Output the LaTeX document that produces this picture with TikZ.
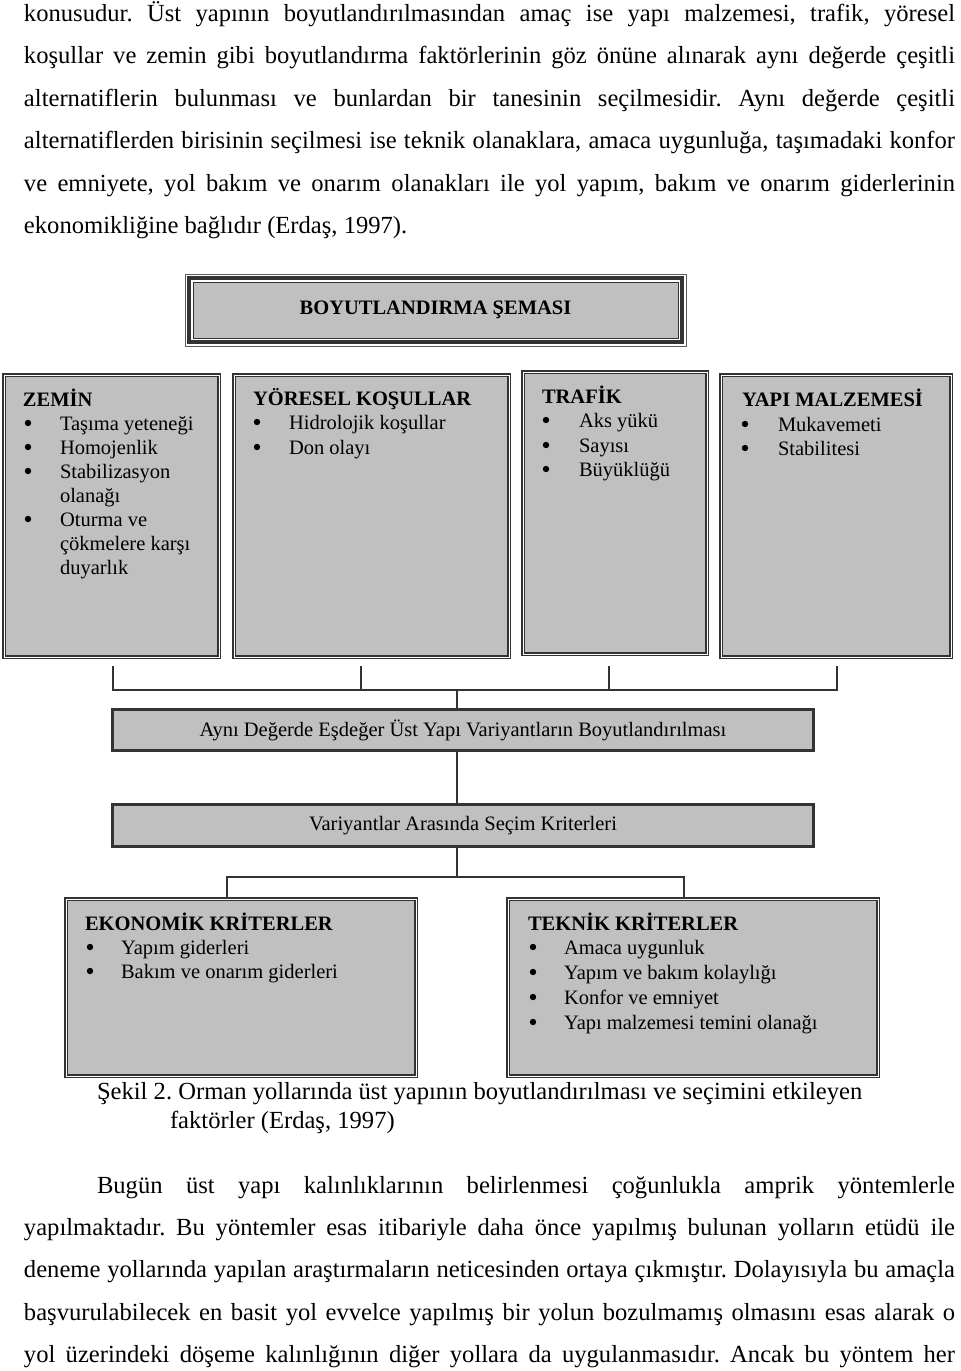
\documentclass[tikz,border=0pt]{standalone}
\usepackage{fontspec}
\setmainfont{Liberation Serif}
\definecolor{boxgray}{HTML}{C0C0C0}
\definecolor{framec}{HTML}{333333}
\newcommand\jl[1]{\makebox[465.5pt][s]{#1}}
\newcommand\jlb[1]{\makebox[429pt][s]{#1}}
\frenchspacing
\begin{document}
\frenchspacing
\begin{tikzpicture}[x=0.5pt,y=-0.5pt,
  ptxt/.style={anchor=base west, inner sep=0, outer sep=0, font=\fontsize{12.3}{14}\selectfont},
  btxt/.style={anchor=base west, inner sep=0, outer sep=0, font=\fontsize{10.25}{12}\selectfont},
  bhead/.style={anchor=base west, inner sep=0, outer sep=0, font=\fontsize{10.25}{12}\selectfont\bfseries},
  bul/.style={circle, fill=black, inner sep=0, outer sep=0, minimum size=3.2pt},
  dbox/.style={draw=framec, double=white, double distance=0.5pt, line width=0.75pt, fill=boxgray, inner sep=0, outer sep=0},
  mbox/.style={draw=framec, line width=1.5pt, fill=boxgray, inner sep=0, outer sep=0, font=\fontsize{10.25}{12}\selectfont},
  conn/.style={draw=framec, line width=0.6pt}]
\useasboundingbox (0,0) rectangle (960,1371);

% ---------- top paragraph ----------
\node[ptxt] (p1) at (24,21)  {\jl{konusudur. Üst yapının boyutlandırılmasından amaç ise yapı malzemesi, trafik, yöresel}};
\node[ptxt] (p2) at (24,63)  {\jl{koşullar ve zemin gibi boyutlandırma faktörlerinin göz önüne alınarak aynı değerde çeşitli}};
\node[ptxt] (p3) at (24,106) {\jl{alternatiflerin bulunması ve bunlardan bir tanesinin seçilmesidir. Aynı değerde çeşitli}};
\node[ptxt] (p4) at (24,148) {\jl{alternatiflerden birisinin seçilmesi ise teknik olanaklara, amaca uygunluğa, taşımadaki konfor}};
\node[ptxt] (p5) at (24,191) {\jl{ve emniyete, yol bakım ve onarım olanakları ile yol yapım, bakım ve onarım giderlerinin}};
\node[ptxt] (p6) at (24,233) {ekonomikliğine bağlıdır (Erdaş, 1997).};

% ---------- title box ----------
\node[fill=boxgray, draw=framec, line width=0.5pt, inner sep=0, outer sep=0,
      minimum width=242.5pt, minimum height=28pt,
      font=\fontsize{10.25}{12}\selectfont\bfseries] (title) at (435.5,310) {BOYUTLANDIRMA ŞEMASI};
\draw[framec, line width=2.2pt] ([shift={(-4,-4)}]title.north west) rectangle ([shift={(4,4)}]title.south east);
\draw[framec!80, line width=0.5pt] ([shift={(-8,-8)}]title.north west) rectangle ([shift={(8,8)}]title.south east);

% ---------- four factor boxes ----------
\node[dbox, minimum width=107.5pt, minimum height=141pt] (zemin) at (111.5,516) {};
\node[dbox, minimum width=137.5pt, minimum height=141pt] (yoresel) at (371.5,516) {};
\node[dbox, minimum width=92pt,    minimum height=141pt] (trafik) at (615,513) {};
\node[dbox, minimum width=115pt,   minimum height=141pt] (yapi) at (836,516) {};

% ZEMIN
\node[bhead] (z0) at (23,406) {ZEMİN};
\node[bul] (zb1) at (28,423) {}; \node[btxt] (z1) at (60,430) {Taşıma yeteneği};
\node[bul] (zb2) at (28,447) {}; \node[btxt] (z2) at (60,454) {Homojenlik};
\node[bul] (zb3) at (28,471) {}; \node[btxt] (z3) at (60,478) {Stabilizasyon};
\node[btxt] (z3b) at (60,502) {olanağı};
\node[bul] (zb4) at (28,519) {}; \node[btxt] (z4) at (60,526) {Oturma ve};
\node[btxt] (z4b) at (60,550) {çökmelere karşı};
\node[btxt] (z4c) at (60,574) {duyarlık};

% YORESEL
\node[bhead] (y0) at (253,405) {YÖRESEL KOŞULLAR};
\node[bul] (yb1) at (257,422) {}; \node[btxt] (y1) at (289,429) {Hidrolojik koşullar};
\node[bul] (yb2) at (257,447) {}; \node[btxt] (y2) at (289,454) {Don olayı};

% TRAFIK
\node[bhead] (t0) at (542,403) {TRAFİK};
\node[bul] (tb1) at (546,420) {}; \node[btxt] (t1) at (579,427) {Aks yükü};
\node[bul] (tb2) at (546,445) {}; \node[btxt] (t2) at (579,452) {Sayısı};
\node[bul] (tb3) at (546,469) {}; \node[btxt] (t3) at (579,476) {Büyüklüğü};

% YAPI MALZEMESI
\node[bhead] (m0) at (742,406) {YAPI MALZEMESİ};
\node[bul] (mb1) at (745,424) {}; \node[btxt] (m1) at (778,431) {Mukavemeti};
\node[bul] (mb2) at (745,448) {}; \node[btxt] (m2) at (778,455) {Stabilitesi};

% ---------- connectors from factor boxes ----------
\coordinate (s1) at (113,666);
\coordinate (s2) at (361,666);
\coordinate (s3) at (609,666);
\coordinate (s4) at (837,666);
\coordinate (hj) at (457,690);

% ---------- middle boxes ----------
\node[mbox, minimum width=350.5pt, minimum height=20.5pt] (varA) at (463,730)
  {Aynı Değerde Eşdeğer Üst Yapı Variyantların Boyutlandırılması};
\node[mbox, minimum width=350.5pt, minimum height=21pt] (varB) at (463,825.5)
  {Variyantlar Arasında Seçim Kriterleri};

\draw[conn] (s1) -- (s1 |- hj) -- (s4 |- hj) -- (s4);
\draw[conn] (s2) -- (s2 |- hj);
\draw[conn] (s3) -- (s3 |- hj);
\draw[conn] (hj) -- (hj |- varA.north);
\draw[conn] (varA.south -| hj) -- (varB.north -| hj);

% ---------- bottom boxes ----------
\node[dbox, minimum width=175pt, minimum height=88.5pt] (eko) at (241,987.5) {};
\node[dbox, minimum width=185pt, minimum height=88.5pt] (tek) at (693,987.5) {};

\coordinate (hb) at (457,877);
\coordinate (e1) at (227,877);
\coordinate (t1c) at (684,877);
\draw[conn] (varB.south -| hb) -- (hb);
\draw[conn] (e1 |- eko.north) -- (e1) -- (t1c) -- (t1c |- tek.north);

\node[bhead] (e0) at (85,930) {EKONOMİK KRİTERLER};
\node[bul] (eb1) at (90,947) {}; \node[btxt] (ee1) at (121,954) {Yapım giderleri};
\node[bul] (eb2) at (90,971) {}; \node[btxt] (ee2) at (121,978) {Bakım ve onarım giderleri};

\node[bhead] (k0) at (528,930) {TEKNİK KRİTERLER};
\node[bul] (kb1) at (533,947)  {}; \node[btxt] (k1) at (564,954)  {Amaca uygunluk};
\node[bul] (kb2) at (533,972)  {}; \node[btxt] (k2) at (564,979)  {Yapım ve bakım kolaylığı};
\node[bul] (kb3) at (533,997)  {}; \node[btxt] (k3) at (564,1004) {Konfor ve emniyet};
\node[bul] (kb4) at (533,1022) {}; \node[btxt] (k4) at (564,1029) {Yapı malzemesi temini olanağı};

% ---------- caption ----------
\node[ptxt] (cap1) at (97,1099) {Şekil 2. Orman yollarında üst yapının boyutlandırılması ve seçimini etkileyen};
\node[ptxt] (cap2) at (170,1128) {faktörler (Erdaş, 1997)};

% ---------- bottom paragraph ----------
\node[ptxt] (q1) at (97,1193) {\jlb{Bugün üst yapı kalınlıklarının belirlenmesi çoğunlukla amprik yöntemlerle}};
\node[ptxt] (q2) at (24,1235) {\jl{yapılmaktadır. Bu yöntemler esas itibariyle daha önce yapılmış bulunan yolların etüdü ile}};
\node[ptxt] (q3) at (24,1277) {\jl{deneme yollarında yapılan araştırmaların neticesinden ortaya çıkmıştır. Dolayısıyla bu amaçla}};
\node[ptxt] (q4) at (24,1320) {\jl{başvurulabilecek en basit yol evvelce yapılmış bir yolun bozulmamış olmasını esas alarak o}};
\node[ptxt] (q5) at (24,1362) {\jl{yol üzerindeki döşeme kalınlığının diğer yollara da uygulanmasıdır. Ancak bu yöntem her}};
\end{tikzpicture}
\end{document}
